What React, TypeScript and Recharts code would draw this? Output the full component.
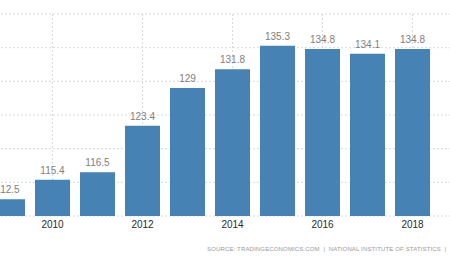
import React from 'react';
import { BarChart, Bar, XAxis, YAxis, CartesianGrid, LabelList } from 'recharts';

const years = ['2009', '2010', '2011', '2012', '2013', '2014', '2015', '2016', '2017', '2018'];
const values = [112.5, 115.4, 116.5, 123.4, 129, 131.8, 135.3, 134.8, 134.1, 134.8];
const yearTicks = ['2010', '2012', '2014', '2016', '2018'];
const valueTicks = [110, 115, 120, 125, 130, 135, 140];
const sourceText = 'SOURCE: TRADINGECONOMICS.COM  |  NATIONAL INSTITUTE OF STATISTICS  |';

const font = '"Liberation Sans", Arial, sans-serif';

const App: React.FC = () => {
    const data = years.map((year, i) => ({ year, value: values[i] }));

    return (
        <div style={{ position: 'fixed', left: 0, top: 0, width: 450, height: 260, overflow: 'hidden', background: '#fff', fontFamily: font }}>
            <div style={{ position: 'absolute', left: -15, top: 0 }}>
                <BarChart width={470} height={260} data={data} margin={{ top: 14, right: 0, left: 0, bottom: 24 }}>
                    <CartesianGrid stroke="#d9d9d9" strokeDasharray="2 2" />
                    <XAxis
                        dataKey="year"
                        ticks={yearTicks}
                        height={20}
                        axisLine={false}
                        tickLine={false}
                        tickSize={0}
                        tickMargin={5}
                        padding={{ left: 0, right: 20 }}
                        tick={{ fontSize: 10, fill: '#2b2b2b', fontFamily: font }}
                    />
                    <YAxis hide domain={[110, 140]} ticks={valueTicks} allowDataOverflow />
                    <Bar dataKey="value" fill="#4682b4" barSize={35} isAnimationActive={false}>
                        <LabelList dataKey="value" position="top" offset={6} style={{ fontSize: 10, fill: '#808080', fontFamily: font }} />
                    </Bar>
                </BarChart>
            </div>
            <div style={{ position: 'absolute', left: 207, top: 245, fontSize: 6, lineHeight: '8px', letterSpacing: 0.15, color: '#999', whiteSpace: 'pre' }}>
                {sourceText}
            </div>
        </div>
    );
};

export default App;
